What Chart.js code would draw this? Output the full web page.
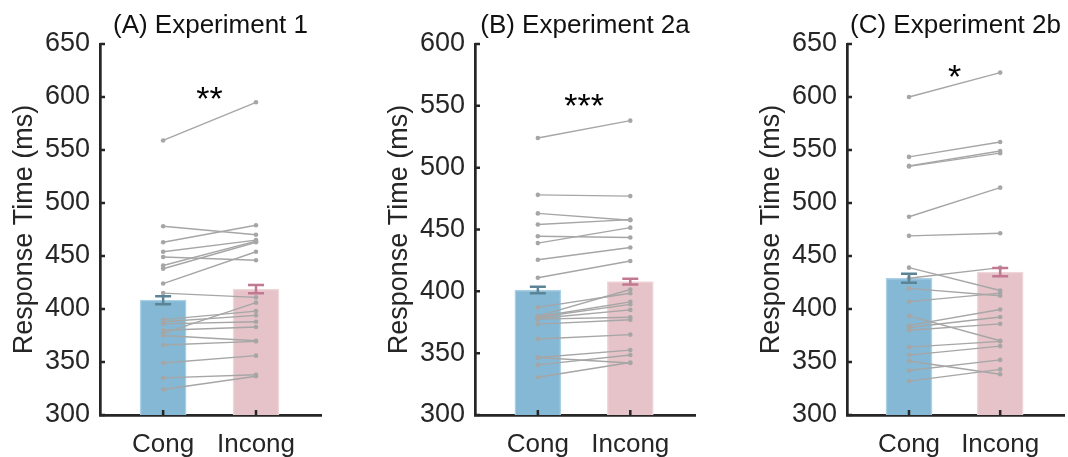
<!DOCTYPE html>
<html>
<head>
<meta charset="utf-8">
<script src="https://cdn.jsdelivr.net/npm/chart.js@4/dist/chart.umd.min.js"></script>
<style>
html, body { margin: 0; padding: 0; background: #ffffff; overflow: hidden; width: 1068px; height: 457px; }
.panel { position: absolute; top: 0; height: 457px; }
canvas { display: block; }
</style>
</head>
<body>
<div class="panel" style="left:0px;width:325px"><canvas id="cA" width="325" height="457"></canvas></div>
<div class="panel" style="left:375px;width:324px"><canvas id="cB" width="324" height="457"></canvas></div>
<div class="panel" style="left:747px;width:321px"><canvas id="cC" width="321" height="457"></canvas></div>
<script>
// ---------- data ----------
const categories = ['Cong', 'Incong'];
const yAxisTitle = 'Response Time (ms)';

const titleA = '(A) Experiment 1';
const titleB = '(B) Experiment 2a';
const titleC = '(C) Experiment 2b';

const yTicksA = [300, 350, 400, 450, 500, 550, 600, 650];
const yTicksB = [300, 350, 400, 450, 500, 550, 600];
const yTicksC = [300, 350, 400, 450, 500, 550, 600, 650];

// per-participant means (ms)
const congA   = [559, 478, 463, 454, 449, 441, 438, 424, 415, 390, 388, 386, 380, 377, 375, 366, 349, 335, 324];
const incongA = [595, 470, 479, 465, 446, 464, 463, 454, 411, 398, 394, 388, 383, 406, 370, 369.5, 356, 338, 336.5];

const congB   = [524, 478, 463, 454, 444.5, 439, 425.5, 411, 387, 380, 379.5, 379, 378, 377.5, 373.5, 361.5, 346.5, 346.5, 340.5, 330.5];
const incongB = [538, 477, 457.5, 458, 443.5, 451.5, 435.5, 424.5, 398.5, 401.5, 391.5, 389.5, 385, 379, 377, 365, 352.5, 342, 348.5, 342.5];

const congC   = [600, 543.5, 535, 534.5, 487, 469, 439, 429, 419.5, 407, 393.5, 384.5, 382.5, 380, 364, 356.5, 351, 342, 332];
const incongC = [623, 557.5, 549, 547, 514.5, 471.5, 417.5, 439, 412.5, 415, 370, 399.5, 392.5, 386, 369.5, 365, 338.5, 352, 343];

// group means and standard errors
const meanA = [408.3, 418.7];
const seA   = [3.8, 3.9];
const meanB = [401.1, 407.9];
const seB   = [2.6, 2.3];
const meanC = [429.0, 434.8];
const seC   = [4.2, 3.9];

// significance markers
const starA = '**';  const starLevelA = 604;
const starB = '***'; const starLevelB = 554.5;
const starC = '*';   const starLevelC = 624.5;

// ---------- styles ----------
const FONT = "'Liberation Sans', Arial, Helvetica, sans-serif";
const AXIS_COLOR = '#262626';
const barFill = ['#85b8d4', '#e5c3c8'];
const barEdge = ['#a9d0e4', '#efd6da'];
const errColor = ['#5b8497', '#c27891'];
const lineColor = '#a6a6a6';

Chart.defaults.font.family = FONT;
Chart.defaults.color = AXIS_COLOR;

function decorPlugin(means, ses, star, starLevel) {
  return {
    id: 'decor',
    afterDatasetsDraw(chart) {
      const ctx = chart.ctx;
      const x = chart.scales.x, y = chart.scales.y;
      const area = chart.chartArea;
      ctx.save();
      // error bars
      ctx.lineWidth = 2.5;
      ctx.lineCap = 'butt';
      means.forEach((m, i) => {
        const px = x.getPixelForValue(i + 1);
        const yTop = y.getPixelForValue(m + ses[i]);
        const yBot = y.getPixelForValue(m - ses[i]);
        ctx.strokeStyle = errColor[i];
        ctx.beginPath();
        ctx.moveTo(px, yTop); ctx.lineTo(px, yBot);
        ctx.moveTo(px - 8, yTop); ctx.lineTo(px + 8, yTop);
        ctx.moveTo(px - 8, yBot); ctx.lineTo(px + 8, yBot);
        ctx.stroke();
      });
      // inward tick marks
      ctx.strokeStyle = AXIS_COLOR;
      ctx.lineWidth = 2.5;
      ctx.beginPath();
      y.ticks.forEach(t => {
        const py = y.getPixelForValue(t.value);
        ctx.moveTo(area.left, py); ctx.lineTo(area.left + 5, py);
      });
      x.ticks.forEach(t => {
        const px = x.getPixelForValue(t.value);
        ctx.moveTo(px, area.bottom); ctx.lineTo(px, area.bottom - 5);
      });
      ctx.stroke();
      // significance stars
      ctx.fillStyle = '#000000';
      ctx.font = '34px ' + FONT;
      ctx.textAlign = 'center';
      ctx.textBaseline = 'alphabetic';
      const mt = ctx.measureText(star);
      const asc = mt.actualBoundingBoxAscent, desc = mt.actualBoundingBoxDescent;
      const py = y.getPixelForValue(starLevel);
      ctx.fillText(star, x.getPixelForValue(1.5), py + (asc - desc) / 2);
      ctx.restore();
    }
  };
}

function makePanel(id, title, cong, incong, means, ses, yTicks, star, starLevel, rightPad) {
  const datasets = [];
  cong.forEach((c, i) => {
    datasets.push({
      type: 'line',
      data: [{ x: 1, y: c }, { x: 2, y: incong[i] }],
      borderColor: lineColor,
      backgroundColor: lineColor,
      borderWidth: 1.4,
      pointRadius: 2.3,
      pointBorderWidth: 0,
      pointBackgroundColor: lineColor,
      order: 0
    });
  });
  datasets.push({
    type: 'bar',
    data: means.map((m, i) => ({ x: i + 1, y: m })),
    backgroundColor: barFill,
    borderColor: barEdge,
    borderWidth: 1.5,
    barThickness: 46,
    order: 1
  });
  new Chart(document.getElementById(id), {
    type: 'bar',
    data: { datasets },
    options: {
      responsive: false,
      animation: false,
      devicePixelRatio: 1,
      layout: { padding: { left: 0, right: rightPad, top: 0, bottom: 0 } },
      plugins: {
        legend: { display: false },
        tooltip: { enabled: false },
        title: {
          display: true,
          text: title,
          fullSize: false,
          color: '#111111',
          font: { size: 26, weight: 'normal', family: FONT },
          padding: { top: 10.4, bottom: 2.4 }
        }
      },
      scales: {
        x: {
          type: 'linear',
          min: 0.32,
          max: 2.70,
          offset: false,
          grid: { display: false, drawTicks: false },
          border: { display: true, color: AXIS_COLOR, width: 2.7 },
          afterBuildTicks: s => { s.ticks = categories.map((_, i) => ({ value: i + 1 })); },
          afterFit: s => { s.height = 42; },
          ticks: {
            padding: 14,
            color: AXIS_COLOR,
            font: { size: 26, family: FONT },
            maxRotation: 0,
            autoSkip: false,
            callback: v => categories[Math.round(v) - 1]
          }
        },
        y: {
          type: 'linear',
          min: yTicks[0],
          max: yTicks[yTicks.length - 1],
          grid: { display: false, drawTicks: false },
          border: { display: true, color: AXIS_COLOR, width: 2.7 },
          afterBuildTicks: s => { s.ticks = yTicks.map(v => ({ value: v })); },
          afterFit: s => { s.width = 100; },
          ticks: {
            padding: 10,
            color: AXIS_COLOR,
            font: { size: 27, family: FONT },
            callback: v => String(v)
          },
          title: {
            display: true,
            text: yAxisTitle,
            color: AXIS_COLOR,
            font: { size: 27, family: FONT },
            padding: { top: 8, bottom: 0 }
          }
        }
      }
    },
    plugins: [decorPlugin(means, ses, star, starLevel)]
  });
}

makePanel('cA', titleA, congA, incongA, meanA, seA, yTicksA, starA, starLevelA, 2);
makePanel('cB', titleB, congB, incongB, meanB, seB, yTicksB, starB, starLevelB, 2);
makePanel('cC', titleC, congC, incongC, meanC, seC, yTicksC, starC, starLevelC, 0);
</script>
</body>
</html>
